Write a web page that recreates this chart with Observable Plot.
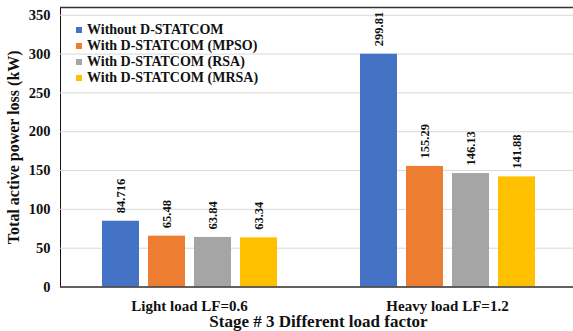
<!DOCTYPE html>
<html>
<head>
<meta charset="utf-8">
<script src="https://cdn.jsdelivr.net/npm/d3@7"></script>
<script src="https://cdn.jsdelivr.net/npm/@observablehq/plot@0.6"></script>
<style>
  html, body { margin: 0; padding: 0; background: #fff; }
  #chart { position: relative; width: 573px; height: 331px; }
  #chart svg { display: block; }
  #chart g[aria-label="y-axis tick label"] { font-size: 14.5px; }
  #chart g[aria-label="y-axis label"] { font-size: 16px; }
  #chart g[aria-label="fx-axis tick label"] { font-size: 15px; }
  #chart g[aria-label="fx-axis label"] { font-size: 17px; }
  .legend { position: absolute; left: 76px; top: 22px; font: bold 14px "Liberation Serif", "Times New Roman", serif; color: #111; }
  .legend .row { display: flex; align-items: center; height: 16px; white-space: nowrap; }
  .legend .sw { width: 6px; height: 6px; margin-right: 5px; flex: none; }
</style>
</head>
<body>
<div id="chart"></div>
<script>
// Load cases (facet groups along the x axis)
const groups = ["Light load LF=0.6", "Heavy load LF=1.2"];
// Compensation scenarios (one bar each per load case)
const series = ["Without D-STATCOM", "With D-STATCOM (MPSO)", "With D-STATCOM (RSA)", "With D-STATCOM (MRSA)"];
const colors = ["#4472C4", "#ED7D31", "#A5A5A5", "#FFC000"];
// Total active power loss (kW)
const lightLoad = [84.716, 65.48, 63.84, 63.34];
const heavyLoad = [299.81, 155.29, 146.13, 141.88];
const yTicks = [0, 50, 100, 150, 200, 250, 300, 350];

const data = [];
[lightLoad, heavyLoad].forEach((vals, gi) => {
  vals.forEach((v, si) => data.push({group: groups[gi], series: series[si], value: v}));
});

const plot = Plot.plot({
  width: 573,
  height: 331,
  marginTop: 7,
  marginBottom: 44.5,
  marginLeft: 60,
  marginRight: 0,
  style: {fontFamily: "'Liberation Serif', 'Times New Roman', serif", fontWeight: "bold", color: "#111", background: "#fff"},
  fx: {
    domain: groups,
    range: [60, 576],
    padding: 0,
    axis: "bottom",
    tickSize: 0,
    tickPadding: 13,
    label: "Stage # 3 Different load factor",
    labelAnchor: "center",
    labelOffset: 40
  },
  x: {domain: series, paddingInner: 0.2, paddingOuter: 0.856, axis: null},
  y: {
    domain: [0, 360],
    ticks: yTicks,
    tickSize: 0,
    tickPadding: 10,
    line: true,
    label: "Total active power loss (kW)",
    labelAnchor: "center",
    labelArrow: "none",
    labelOffset: 53
  },
  color: {domain: series, range: colors},
  marks: [
    Plot.gridY(yTicks, {stroke: "#d9d9d9", strokeOpacity: 1}),
    Plot.ruleY([360], {stroke: "#333", strokeWidth: 1.5}),
    Plot.barY(data, {fx: "group", x: "series", y: "value", fill: "series", inset: 0}),
    Plot.text(data, {
      fx: "group", x: "series", y: "value",
      text: d => String(d.value),
      rotate: -90, textAnchor: "start", lineAnchor: "middle",
      dy: -8, fontSize: 12.5, fill: "#111"
    }),
    Plot.ruleY([0], {stroke: "#333", strokeWidth: 1.5})
  ]
});

const chart = document.getElementById("chart");
chart.appendChild(plot);

// Legend built from the plot's colour scale
const color = plot.scale("color");
const legend = d3.select(chart).append("div").attr("class", "legend");
const rows = legend.selectAll("div.row").data(color.domain).join("div").attr("class", "row");
rows.append("span").attr("class", "sw").style("background", d => color.apply(d));
rows.append("span").text(d => d);
</script>
</body>
</html>
